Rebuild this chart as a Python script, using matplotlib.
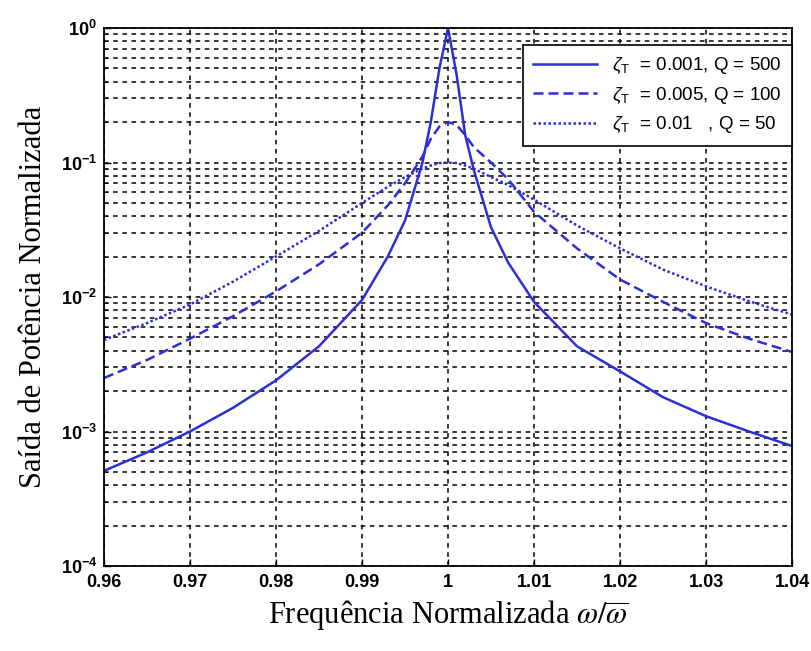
import matplotlib
matplotlib.use("Agg")
import matplotlib.pyplot as plt
from matplotlib.ticker import FixedLocator, LogLocator, NullFormatter, FixedFormatter

# ---- data ----
freq = [0.96, 0.965, 0.97, 0.975, 0.98, 0.985, 0.99, 0.993, 0.995, 0.997, 0.998, 0.999,
        1.0, 1.001, 1.002, 1.003, 1.005, 1.007, 1.01, 1.015, 1.02, 1.025, 1.03, 1.035, 1.04]

p_q500 = [5.1e-4, 7.0e-4, 1.0e-3, 1.5e-3, 2.4e-3, 4.3e-3, 9.5e-3, 2.0e-2, 3.7e-2, 9.8e-2, 0.2, 0.5,
          1.0, 0.45, 0.16, 0.088, 0.033, 0.018, 9.2e-3, 4.3e-3, 2.8e-3, 1.8e-3, 1.3e-3, 1.0e-3, 7.8e-4]

p_q100 = [2.5e-3, 3.4e-3, 4.9e-3, 7.2e-3, 1.1e-2, 1.75e-2, 3.0e-2, 4.8e-2, 7.0e-2, 0.11, 0.15, 0.185,
          0.2, 0.19, 0.16, 0.13, 0.10, 0.075, 4.3e-2, 2.3e-2, 1.35e-2, 9.2e-3, 6.4e-3, 4.9e-3, 3.9e-3]

p_q50 = [4.8e-3, 6.4e-3, 8.8e-3, 1.3e-2, 2.0e-2, 3.1e-2, 5.0e-2, 6.6e-2, 7.8e-2, 0.09, 0.095, 0.099,
         0.1, 0.099, 0.095, 0.09, 0.078, 0.068, 5.3e-2, 3.4e-2, 2.3e-2, 1.6e-2, 1.2e-2, 9.3e-3, 7.4e-3]

labels = [r'$\zeta_{\rm T}$  = 0.001, Q = 500',
          r'$\zeta_{\rm T}$  = 0.005, Q = 100',
          r'$\zeta_{\rm T}$  = 0.01   , Q = 50']

xticks = [0.96, 0.97, 0.98, 0.99, 1.0, 1.01, 1.02, 1.03, 1.04]
xticklabels = ['0.96', '0.97', '0.98', '0.99', '1', '1.01', '1.02', '1.03', '1.04']
yticks = [1e-4, 1e-3, 1e-2, 1e-1, 1e0]
yticklabels = [r'$\mathbf{10^{-4}}$', r'$\mathbf{10^{-3}}$', r'$\mathbf{10^{-2}}$',
               r'$\mathbf{10^{-1}}$', r'$\mathbf{10^{0}}$']

# ---- figure ----
plt.rcParams['font.family'] = ['Liberation Sans', 'DejaVu Sans']
plt.rcParams['mathtext.fontset'] = 'custom'
plt.rcParams['mathtext.rm'] = 'Liberation Sans'
plt.rcParams['mathtext.it'] = 'Liberation Sans:italic'
plt.rcParams['mathtext.bf'] = 'Liberation Sans:bold'

fig = plt.figure(figsize=(8.11, 6.51), dpi=100)
ax = fig.add_axes([104/811, 1 - 566/651, (792-104)/811, (566-28)/651])

blue = '#2a2fd6'
ax.plot(freq, p_q500, color=blue, lw=1.8, ls='-', label=labels[0])
ax.plot(freq, p_q100, color=blue, lw=1.8, ls=(0, (4, 2)), label=labels[1])
ax.plot(freq, p_q50, color=blue, lw=1.8, ls=(0, (1, 1)), label=labels[2])

ax.set_yscale('log')
ax.set_xlim(0.96, 1.04)
ax.set_ylim(1e-4, 1e0)

ax.xaxis.set_major_locator(FixedLocator(xticks))
ax.xaxis.set_major_formatter(FixedFormatter(xticklabels))
ax.yaxis.set_major_locator(FixedLocator(yticks))
ax.yaxis.set_major_formatter(FixedFormatter(yticklabels))
ax.yaxis.set_minor_locator(LogLocator(base=10, subs=range(2, 10)))
ax.yaxis.set_minor_formatter(NullFormatter())

for lab in ax.get_xticklabels():
    lab.set_fontweight('bold')
ax.tick_params(axis='both', which='major', direction='in', labelsize=13, length=5, width=1, pad=6)
ax.tick_params(axis='y', which='minor', direction='in', length=3)
ax.tick_params(axis='y', labelsize=13, pad=5)

grid_kw = dict(color='black', linestyle=(0, (3, 3)), linewidth=1.1)
ax.grid(True, which='major', axis='both', **grid_kw)
ax.grid(True, which='minor', axis='y', **grid_kw)
ax.set_axisbelow(True)

for s in ax.spines.values():
    s.set_linewidth(1.3)
    s.set_color('black')

ax.set_xlabel(r'Frequência Normalizada $\omega/\overline{\omega}$', fontsize=22,
              family='Liberation Serif', math_fontfamily='stix', labelpad=5)
ax.set_ylabel('Saída de Potência Normalizada', fontsize=22,
              family='Liberation Serif', labelpad=9)

leg = ax.legend(loc='upper right', bbox_to_anchor=(1.0, 1 - 17/538), borderaxespad=0.0,
                fontsize=13.5, frameon=True, fancybox=False, framealpha=1,
                edgecolor='black', handlelength=3.4, labelspacing=0.45, borderpad=0.55,
                handletextpad=0.8)
leg.get_frame().set_linewidth(1.2)

fig.savefig('out.png', dpi=100)
